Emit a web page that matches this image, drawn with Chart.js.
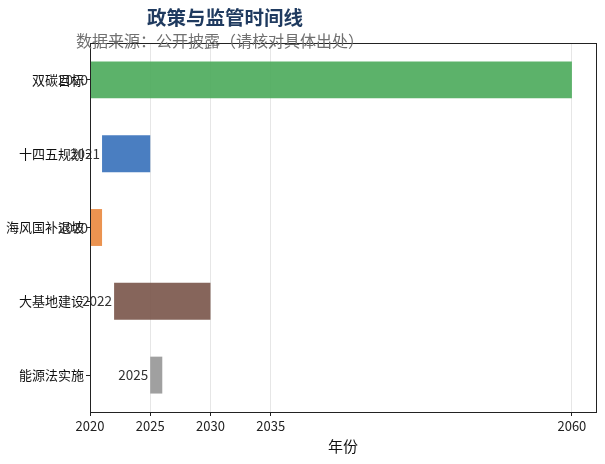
<!DOCTYPE html>
<html>
<head>
<meta charset="utf-8">
<script src="https://cdn.jsdelivr.net/npm/chart.js@4"></script>
<style>
  html, body { margin: 0; padding: 0; background: #fff; }
  #wrap { width: 605px; height: 464px; }
</style>
</head>
<body>
<div id="wrap"><canvas id="timelineChart"></canvas></div>
<script>
// Timeline data
const categories = ['双碳目标', '十四五规划', '海风国补退坡', '大基地建设', '能源法实施'];
const startYears = [2020, 2021, 2020, 2022, 2025];
const endYears = [2060, 2025, 2021, 2030, 2026];
const barColors = [
    'rgba(74, 170, 90, 0.9)',
    'rgba(54, 112, 186, 0.9)',
    'rgba(233, 135, 61, 0.9)',
    'rgba(121, 84, 73, 0.9)',
    'rgba(150, 150, 150, 0.9)'
];
const tickYears = [2020, 2025, 2030, 2035, 2060];

const FONT = "'Noto Sans CJK SC', 'Noto Sans', sans-serif";

// Title, subtitle, frame and start-year labels
const decorPlugin = {
    id: 'decor',
    afterDatasetsDraw(chart) {
        const ctx = chart.ctx;
        const meta = chart.getDatasetMeta(0);
        ctx.save();
        ctx.font = '13.5px ' + FONT;
        ctx.fillStyle = '#333';
        ctx.textAlign = 'right';
        ctx.textBaseline = 'middle';
        meta.data.forEach((bar, i) => {
            ctx.fillText(String(startYears[i]), bar.base - 2, bar.y);
        });
        ctx.restore();
    },
    afterDraw(chart) {
        const ctx = chart.ctx;
        const area = chart.chartArea;
        ctx.save();
        ctx.strokeStyle = '#222';
        ctx.lineWidth = 1;
        ctx.strokeRect(area.left + 0.5, area.top + 0.5, area.right - area.left, area.bottom - area.top);

        ctx.textAlign = 'center';
        ctx.textBaseline = 'middle';
        ctx.fillStyle = '#1f3a5f';
        ctx.font = 'bold 19.5px ' + FONT;
        ctx.fillText('政策与监管时间线', 225, 18);
        ctx.fillStyle = '#707070';
        ctx.font = '16px ' + FONT;
        ctx.fillText('数据来源：公开披露（请核对具体出处）', 220, 41);
        ctx.restore();
    }
};

const timelineChart = new Chart(document.getElementById('timelineChart'), {
    type: 'bar',
    data: {
        labels: categories,
        datasets: [{
            data: startYears.map((s, i) => [s, endYears[i]]),
            backgroundColor: barColors,
            borderWidth: 0,
            barPercentage: 0.5,
            categoryPercentage: 1.0
        }]
    },
    options: {
        indexAxis: 'y',
        responsive: true,
        maintainAspectRatio: false,
        animation: false,
        layout: {
            padding: { top: 43, right: 9, left: 0, bottom: 0 }
        },
        plugins: {
            legend: { display: false },
            tooltip: { enabled: false }
        },
        scales: {
            x: {
                type: 'linear',
                min: 2020,
                max: 2062,
                afterBuildTicks: function(scale) {
                    scale.ticks = tickYears.map(v => ({ value: v }));
                },
                afterFit: function(scale) {
                    scale.height = 52;
                },
                grid: {
                    color: '#e6e6e6',
                    tickColor: '#222',
                    tickLength: 4
                },
                border: { color: '#222' },
                ticks: {
                    color: '#222',
                    padding: 2,
                    font: { family: FONT, size: 13 },
                    callback: v => String(v)
                },
                title: {
                    display: true,
                    text: '年份',
                    color: '#111',
                    font: { family: FONT, size: 15 },
                    padding: { top: 2, bottom: 9 }
                }
            },
            y: {
                afterFit: function(scale) {
                    scale.width = 90;
                },
                grid: {
                    offset: false,
                    drawOnChartArea: false,
                    tickColor: '#222',
                    tickLength: 4
                },
                border: { color: '#222' },
                ticks: {
                    color: '#111',
                    padding: 2,
                    font: { family: FONT, size: 13 }
                }
            }
        }
    },
    plugins: [decorPlugin]
});
</script>
</body>
</html>
